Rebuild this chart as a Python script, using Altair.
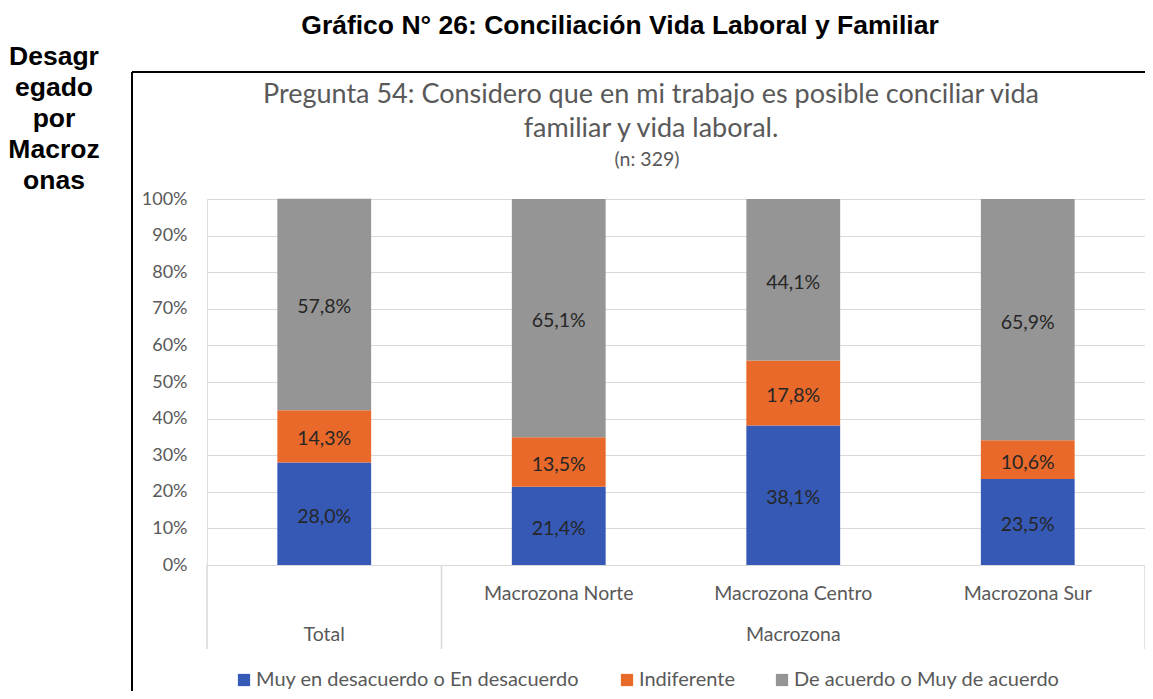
import altair as alt
import pandas as pd

categories = ["Total", "Macrozona Norte", "Macrozona Centro", "Macrozona Sur"]
row1_labels = ["", "Macrozona Norte", "Macrozona Centro", "Macrozona Sur"]
row2_labels = ["Total", "", "Macrozona", ""]
series = ["Muy en desacuerdo o En desacuerdo", "Indiferente", "De acuerdo o Muy de acuerdo"]
colors = ["#3559B5", "#E8692A", "#959595"]
desacuerdo = [28.0, 21.4, 38.1, 23.5]
indiferente = [14.3, 13.5, 17.8, 10.6]
acuerdo = [57.8, 65.1, 44.1, 65.9]
y_ticks = [0, 10, 20, 30, 40, 50, 60, 70, 80, 90, 100]

outer_title = "Gráfico N° 26: Conciliación Vida Laboral y Familiar"
side_text = "Desagr\negado\npor\nMacroz\nonas"
title_lines = "Pregunta 54: Considero que en mi trabajo es posible conciliar vida\nfamiliar y vida laboral."
subtitle = "(n: 329)"

rows = []
for i, c in enumerate(categories):
    for j, (s, vals) in enumerate(zip(series, [desacuerdo, indiferente, acuerdo])):
        rows.append({"cat": c, "serie": s, "order": j, "value": vals[i]})
df = pd.DataFrame(rows)
df_cat = pd.DataFrame({"cat": categories, "row1": row1_labels, "row2": row2_labels})
df_one = pd.DataFrame({"k": [0]})

W, H = 938, 366
FONT = "Lato"
GRID = "#D9D9D9"
TXT = "#595959"

xaxis = alt.Axis(labels=False, ticks=False, domain=True, domainColor=GRID,
                 grid=False, title=None)
xscale = alt.Scale(paddingInner=0, paddingOuter=0)
yaxis = alt.Axis(values=y_ticks, tickCount=11, labelExpr="datum.value + '%'",
                 grid=True, gridColor=GRID, domain=False, ticks=False,
                 labelPadding=20, labelOverlap=False, labelFlush=False,
                 labelFontSize=18, labelFont=FONT, labelColor=TXT, title=None)
yscale = alt.Scale(domain=[0, 100], nice=False)


def xcat(**kw):
    return alt.X("cat:N", sort=categories, scale=xscale, axis=xaxis, **kw)


base = alt.Chart(df)

bars = base.mark_bar(width=alt.RelativeBandSize(0.4)).encode(
    x=xcat(),
    y=alt.Y("value:Q", stack="zero", scale=yscale, axis=yaxis),
    color=alt.Color("serie:N", scale=alt.Scale(domain=series, range=colors),
                    legend=alt.Legend(orient="none", legendX=27, legendY=471,
                                      direction="horizontal", title=None,
                                      symbolType="square", symbolSize=150,
                                      symbolStrokeWidth=0, labelFontSize=20,
                                      labelFont=FONT, labelColor=TXT,
                                      columnPadding=37, labelLimit=0, labelOffset=2)),
    order=alt.Order("order:Q"),
)

labels = base.transform_stack(
    stack="value", groupby=["cat"], as_=["v0", "v1"], sort=[alt.SortField("order")]
).transform_calculate(
    mid="(datum.v0 + datum.v1) / 2",
    lab="replace(format(datum.value, '.1f'), '.', ',') + '%'",
).mark_text(font=FONT, fontSize=19.5, color="#262626", baseline="middle", dy=3).encode(
    x=xcat(),
    y=alt.Y("mid:Q", scale=yscale, axis=yaxis),
    text="lab:N",
)

cat_base = alt.Chart(df_cat)
row1 = cat_base.mark_text(font=FONT, fontSize=19.5, color=TXT, baseline="middle").encode(
    x=xcat(), y=alt.value(H + 29), text="row1:N")
row2 = cat_base.mark_text(font=FONT, fontSize=19.5, color=TXT, baseline="middle").encode(
    x=xcat(), y=alt.value(H + 70), text="row2:N")

sep_left = cat_base.transform_filter(
    alt.FieldOneOfPredicate(field="cat", oneOf=["Total", "Macrozona Norte"])
).mark_rule(color=GRID, strokeWidth=1.5).encode(
    x=xcat(bandPosition=0), y=alt.value(H), y2=alt.value(H + 84))
sep_right = cat_base.transform_filter(
    alt.FieldEqualPredicate(field="cat", equal="Macrozona Sur")
).mark_rule(color=GRID, strokeWidth=1.5).encode(
    x=xcat(bandPosition=1), y=alt.value(H), y2=alt.value(H + 84))

one = alt.Chart(df_one)
frame_left = one.mark_rule(color="black", strokeWidth=2).encode(
    x=alt.value(-75), y=alt.value(-127), y2=alt.value(500))
frame_top = one.mark_rule(color="black", strokeWidth=2).encode(
    x=alt.value(-75), x2=alt.value(950), y=alt.value(-127))

t_outer = one.mark_text(font="Liberation Sans", fontWeight="bold", fontSize=26.5,
                        color="black", align="center", baseline="alphabetic").encode(
    x=alt.value(413), y=alt.value(-165), text=alt.value(outer_title))
t_side = one.mark_text(font="Liberation Sans", fontWeight="bold", fontSize=26.5,
                       color="black", align="center", baseline="top", lineBreak="\n",
                       lineHeight=31).encode(
    x=alt.value(-153), y=alt.value(-155), text=alt.value(side_text))
t_title = one.mark_text(font=FONT, fontSize=27, color=TXT, align="center",
                        baseline="alphabetic", lineBreak="\n", lineHeight=34).encode(
    x=alt.value(444), y=alt.value(-96), text=alt.value(title_lines))
t_sub = one.mark_text(font=FONT, fontSize=19.5, color=TXT, align="center",
                      baseline="alphabetic").encode(
    x=alt.value(440), y=alt.value(-33), text=alt.value(subtitle))

chart = alt.layer(
    bars, labels, row1, row2, sep_left, sep_right,
    frame_left, frame_top, t_outer, t_side, t_title, t_sub
).properties(
    width=W, height=H,
    autosize=alt.AutoSizeParams(type="none"),
    padding={"left": 199, "top": 191, "right": 0, "bottom": 126},
).configure_view(stroke=None).configure(background="white")

chart.save("out.html", embed_options={"renderer": "svg", "actions": False})
